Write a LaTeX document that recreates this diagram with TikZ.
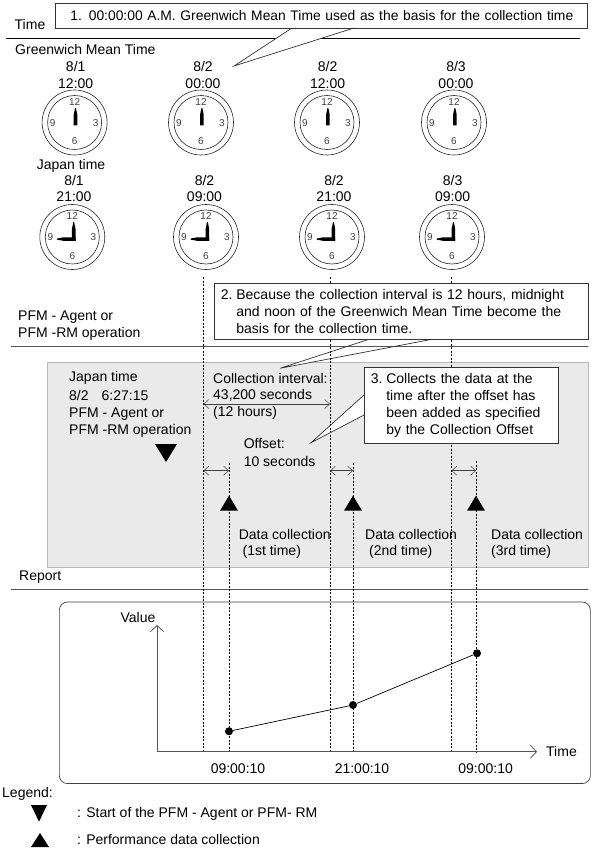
\documentclass[tikz,border=0pt]{standalone}
\usepackage{fontspec}
\setmainfont{Liberation Sans}
\usetikzlibrary{arrows.meta}
\definecolor{panelgray}{HTML}{EAEAEA}
\definecolor{panelline}{HTML}{B8B8B8}
\definecolor{ruledark}{HTML}{555555}
\tikzset{
  lbl/.style={inner sep=0pt,font=\fontsize{14}{15}\selectfont},
  lbll/.style={lbl,anchor=west},
  calloutbox/.style={draw=black!80,fill=white,line width=0.7pt,anchor=north west,inner sep=0pt,font=\fontsize{14}{17}\selectfont},
  pointerline/.style={draw=black!80,line width=0.7pt,line join=miter},
  rulethin/.style={draw=black,line width=0.7pt},
  rulethick/.style={draw=ruledark,line width=0.9pt},
  dashline/.style={draw=black,line width=0.8pt,dash pattern=on 2.2pt off 1.3pt},
  dimarrow/.style={draw=black!75,line width=0.5pt,{Straight Barb[length=5pt,width=9pt]}-{Straight Barb[length=5pt,width=9pt]}},
  axisline/.style={draw=ruledark,line width=0.8pt,-{Straight Barb[length=6pt,width=13pt]}},
  tri/.style={fill=black,draw=none},
  dot/.style={circle,fill=black,inner sep=0pt,minimum size=8pt},
  clocknum/.style={inner sep=0pt,text=black!75,font=\fontsize{10}{10}\selectfont},
  clockface/.pic={
    \draw[black!85,line width=0.6pt] (0,0) circle (32.5);
    \draw[black!85,line width=0.6pt] (0,0) circle (27);
    \node[clocknum] (-12) at (0,-20.5) {12};
    \node[clocknum] (-3) at (21,0.5) {3};
    \node[clocknum] (-6) at (0,19) {6};
    \node[clocknum] (-9) at (-22,0.5) {9};
  },
  gmtclock/.pic={
    \pic {clockface};
    \fill[black] (-0.9,2.8) -- (-0.9,-8) -- (0.5,-14.5) -- (1.3,-14.5) -- (2.7,-8) -- (2.7,2.8) -- cycle;
  },
  jstclock/.pic={
    \pic {clockface};
    \fill[black] (-0.4,3.5) -- (-0.4,-8) -- (1,-15) -- (1.8,-15) -- (3.2,-8) -- (3.2,3.8) -- cycle;
    \fill[black] (3.2,3.8) -- (-9,3.8) -- (-15.5,2.6) -- (-15.5,1.6) -- (-9,0.3) -- (3.2,0.3) -- cycle;
  },
}
\begin{document}
\begin{tikzpicture}[x=1pt,y=-1pt]
\useasboundingbox (0,0) rectangle (592,851);
% coordinates of the time lines
\coordinate (d1t) at (203.5,277);
\coordinate (d2t) at (330,277);
\coordinate (d3t) at (451.5,277);
\coordinate (d1b) at (203.5,751.7);
\coordinate (d2b) at (330,751.7);
\coordinate (d3b) at (451.5,751.7);
\coordinate (o1t) at (229,463);
\coordinate (o2t) at (353,463);
\coordinate (o3t) at (476,461);
\coordinate (o1b) at (229,751.7);
\coordinate (o2b) at (353,751.7);
\coordinate (o3b) at (476,751.7);
% rules
\coordinate (r1a) at (6,38.5); \coordinate (r1b) at (580,38.5);
\coordinate (r2a) at (11,346); \coordinate (r2b) at (588,346);
\coordinate (r3a) at (11,589); \coordinate (r3b) at (588,589);
\draw[rulethin] (r1a) -- (r1b);
% panel
\node[draw=panelline,fill=panelgray,line width=0.8pt,inner sep=0pt,anchor=north west,minimum width=541pt,minimum height=205pt] (panel) at (47,361.7) {};
\draw[rulethick] (r3a) -- (r3b);
% chart frame
\node[draw=black!75,fill=white,line width=0.7pt,rounded corners=8pt,inner sep=0pt,anchor=north west,minimum width=531pt,minimum height=181.5pt] (chart) at (59,601.7) {};
% pointer fills below the time lines
\coordinate (p2a) at (369,339.3); \coordinate (p2t) at (280,368.3); \coordinate (p2b) at (432,339.3);
\coordinate (p3a) at (364,395); \coordinate (p3t) at (311,442.7); \coordinate (p3b) at (364,415);
\fill[white] (p2a) -- (p2t) -- (p2b) -- cycle;
\fill[white] (p3a) -- (p3t) -- (p3b) -- cycle;
\draw[rulethick] (r2a) -- (r2b);
% dashed lines
\foreach \a/\b in {d1t/d1b,d2t/d2b,d3t/d3b,o1t/o1b,o2t/o2b,o3t/o3b}{\draw[dashline] (\a) -- (\b);}
% top headings
\node[lbl] (timehead) at (30,24) {Time};
\node[lbll] (gmt) at (15,49) {Greenwich Mean Time};
\foreach \n/\x/\d/\t in {a/75.7/8\slash 1/12:00,b/203/8\slash 2/00:00,c/327.6/8\slash 2/12:00,e/456/8\slash 3/00:00}{
  \node[lbl] (gd\n) at (\x,66.7) {\d};
  \node[lbl] (gt\n) at (\x,84) {\t};
}
\pic (c1) at (74.6,122.5) {gmtclock};
\pic (c2) at (201,122.5) {gmtclock};
\pic (c3) at (327,122.5) {gmtclock};
\pic (c4) at (454,122.5) {gmtclock};
\node[lbl] (jst) at (71,165.7) {Japan time};
\foreach \n/\x/\d/\t in {a/74/8\slash 1/21:00,b/204.5/8\slash 2/09:00,c/334/8\slash 2/21:00,e/452.6/8\slash 3/09:00}{
  \node[lbl] (jd\n) at (\x,180) {\d};
  \node[lbl] (jt\n) at (\x,197) {\t};
}
\pic (j1) at (72.3,237) {jstclock};
\pic (j2) at (206,237) {jstclock};
\pic (j3) at (332,237) {jstclock};
\pic (j4) at (452,237) {jstclock};
% callout 1
\coordinate (p1a) at (292,28); \coordinate (p1t) at (234,66); \coordinate (p1b) at (354,28);
\fill[white] (p1a) -- (p1t) -- (p1b) -- cycle;
\draw[rulethin] (330,38.5) -- (r1b);
\node[calloutbox,minimum height=25pt,align=left,text width=532pt,font=\fontsize{13.85}{17}\selectfont] (call1) at (55,3) {\hspace*{15pt}1. 00:00:00 A.M. Greenwich Mean Time used as the basis for the collection time};
\draw[pointerline] (p1a) -- (p1t) -- (p1b);
% section labels
\node[lbll] (pfmA) at (18,317) {PFM - Agent or};
\node[lbll] (pfmB) at (18,334) {PFM -RM operation};
\node[lbll] (report) at (19,577) {Report};
% callout 2
\node[calloutbox,minimum height=56.6pt,align=left,text width=374pt] (call2) at (214,282.7) {\hspace*{6.5pt}\makebox[15.5pt][l]{2.}Because the collection interval is 12 hours, midnight\\\hspace*{22pt}and noon of the Greenwich Mean Time become the\\\hspace*{22pt}basis for the collection time.};
\draw[pointerline] (p2a) -- (p2t) -- (p2b);
% panel text
\node[lbll] (pj1) at (69,377.7) {Japan time};
\node[lbll] (pj2) at (69,395.7) {8/2\hspace{13pt}6:27:15};
\node[lbll] (pj3) at (69,413.7) {PFM - Agent or};
\node[lbll] (pj4) at (69,430.7) {PFM -RM operation};
\node[lbll] (ci1) at (213,378.3) {Collection interval:};
\node[lbll] (ci2) at (213,395.3) {43,200 seconds};
\node[lbll] (ci3) at (213,412.7) {(12 hours)};
\node[lbll] (of1) at (243.6,443.7) {Offset:};
\node[lbll] (of2) at (243.6,461) {10 seconds};
% callout 3
\node[calloutbox,minimum height=75.4pt,align=left,text width=194pt] (call3) at (364,367.3) {\hspace*{6.5pt}\makebox[15.5pt][l]{3.}Collects the data at the\\\hspace*{22pt}time after the offset has\\\hspace*{22pt}been added as specified\\\hspace*{22pt}by the Collection Offset};
\draw[pointerline] (p3a) -- (p3t) -- (p3b);
% dimension arrows
\coordinate (ia) at (203.5,404); \coordinate (ib) at (330,404);
\draw[dimarrow] (ia) -- (ib);
\foreach \a/\b in {203.5/229,330/353,451.5/476}{\draw[dimarrow] (\a,470.7) -- (\b,470.7);}
% triangles
\fill[tri] (155,444) -- (177,444) -- (166,462) -- cycle;
\foreach \x in {229,353,476}{\fill[tri] (\x-9,510.7) -- (\x+9,510.7) -- (\x,495.7) -- cycle;}
% data collection labels
\node[lbll] (dc1) at (238.6,534.3) {Data collection};
\node[lbll] (dt1) at (242.4,552) {(1st time)};
\node[lbll] (dc2) at (365,534.3) {Data collection};
\node[lbll] (dt2) at (369,552) {(2nd time)};
\node[lbll] (dc3) at (491,534.3) {Data collection};
\node[lbll] (dt3) at (491,552) {(3rd time)};
% chart
\coordinate (origin) at (157,751.7);
\coordinate (ytop) at (157,625);
\coordinate (xend) at (537,751.7);
\draw[axisline] (origin) -- (ytop);
\draw[axisline] (origin) -- (xend);
\node[lbl] (val) at (138,617.3) {Value};
\node[lbll] (tim) at (546,751) {Time};
\node[dot] (pt1) at (229,731.3) {};
\node[dot] (pt2) at (353,705) {};
\node[dot] (pt3) at (477,653.3) {};
\draw[black,line width=0.7pt] (pt1) -- (pt2) -- (pt3);
\node[lbl] (t1) at (238,768.3) {09:00:10};
\node[lbl] (t2) at (362,768.3) {21:00:10};
\node[lbl] (t3) at (485.6,768.3) {09:00:10};
% legend
\node[lbll] (leg) at (2,794) {Legend:};
\fill[tri] (31,805) -- (47,805) -- (39,821.7) -- cycle;
\fill[tri] (31,847) -- (49,847) -- (40,833) -- cycle;
\node[lbll] (leg1) at (77,814) {: Start of the PFM - Agent or PFM- RM};
\node[lbll] (leg2) at (77,839) {: Performance data collection};
\end{tikzpicture}
\end{document}
